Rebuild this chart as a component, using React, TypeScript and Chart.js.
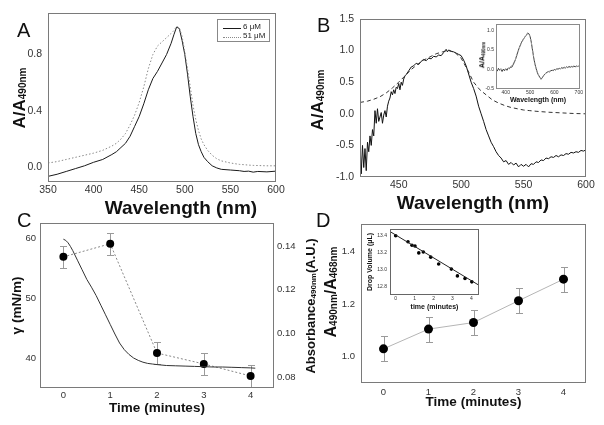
import React, { useEffect, useRef } from "react";
import { Chart, registerables } from "chart.js";
Chart.register(...registerables);

const FONT = "Arial, 'Liberation Sans', Helvetica, sans-serif";
Chart.defaults.font.family = FONT;

// ---------- Panel A ----------
const A_WAVELENGTH = [350, 360, 370, 380, 390, 400, 410, 420, 425, 430, 435, 440, 445, 450, 455, 460, 465, 470, 475, 480, 485, 488, 491, 494, 497, 500, 503, 506, 509, 512, 515, 518, 521, 525, 530, 535, 540, 550, 560, 565, 570, 575, 580, 590, 600];
const A_6UM = [-0.065, -0.05, -0.03, -0.01, 0.01, 0.035, 0.055, 0.09, 0.11, 0.14, 0.17, 0.22, 0.29, 0.36, 0.45, 0.55, 0.63, 0.68, 0.74, 0.8, 0.88, 0.94, 0.995, 0.985, 0.9, 0.8, 0.66, 0.5, 0.36, 0.24, 0.16, 0.11, 0.07, 0.04, 0.01, -0.005, -0.015, -0.02, -0.025, -0.03, -0.028, -0.035, -0.03, -0.033, -0.028];
const A_51UM = [0.03, 0.04, 0.055, 0.07, 0.085, 0.1, 0.12, 0.15, 0.17, 0.2, 0.24, 0.3, 0.37, 0.46, 0.57, 0.7, 0.8, 0.86, 0.89, 0.92, 0.95, 0.97, 1.0, 0.99, 0.93, 0.82, 0.7, 0.57, 0.44, 0.34, 0.26, 0.2, 0.16, 0.12, 0.085, 0.06, 0.045, 0.03, 0.02, 0.018, 0.015, 0.013, 0.012, 0.01, 0.01];
const A_X_TICKS = [350, 400, 450, 500, 550, 600];
const A_Y_TICKS = [0, 0.4, 0.8];
const A_LEGEND = ["6 \u03bcM", "51 \u03bcM"];

// ---------- Panel B ----------
const B_WAVELENGTH = [419, 420, 421, 422, 423, 424, 425, 426, 427, 428, 429, 430, 431, 432, 433, 434, 435, 436, 437, 438, 439, 440, 441, 442, 443, 444, 445, 446, 447, 448, 449, 450, 451, 452, 453, 454, 455, 456, 458, 460, 462, 464, 466, 468, 470, 472, 474, 476, 478, 480, 482, 484, 486, 488, 489, 490, 492, 494, 496, 498, 500, 502, 504, 506, 508, 510, 512, 514, 516, 518, 520, 522, 524, 526, 528, 530, 532, 534, 536, 538, 540, 542, 544, 546, 548, 550, 552, 554, 556, 558, 560, 562, 564, 566, 568, 570, 572, 574, 576, 578, 580, 582, 584, 586, 588, 590, 592, 594, 596, 598, 600];
const B_SIGNAL = [-0.45, -0.95, -0.5, -0.85, -0.55, -0.9, -0.45, -0.6, -0.35, -0.5, -0.25, -0.35, 0.05, -0.15, 0.08, -0.12, -0.05, 0.02, -0.15, -0.02, 0.05, -0.05, 0.12, 0.2, 0.25, 0.35, 0.3, 0.38, 0.32, 0.42, 0.4, 0.48, 0.38, 0.5, 0.45, 0.55, 0.6, 0.62, 0.68, 0.74, 0.76, 0.8, 0.78, 0.83, 0.86, 0.84, 0.88, 0.87, 0.91, 0.9, 0.93, 0.92, 0.97, 1.02, 0.98, 1.01, 0.99, 0.98, 0.96, 0.94, 0.92, 0.85, 0.76, 0.63, 0.5, 0.4, 0.28, 0.12, 0.0, -0.12, -0.25, -0.35, -0.45, -0.52, -0.6, -0.66, -0.7, -0.76, -0.74, -0.8, -0.77, -0.81, -0.78, -0.84, -0.8, -0.83, -0.8, -0.84, -0.79, -0.8, -0.76, -0.77, -0.73, -0.74, -0.7, -0.71, -0.68, -0.69, -0.66, -0.68, -0.65, -0.66, -0.63, -0.64, -0.61, -0.62, -0.6, -0.61, -0.58, -0.59, -0.57];
const B_FIT_WAVELENGTH = [419, 425, 430, 435, 440, 445, 450, 455, 460, 465, 470, 475, 480, 485, 490, 495, 500, 505, 510, 515, 520, 525, 530, 535, 540, 545, 550, 555, 560, 570, 580, 590, 600];
const B_FIT = [0.18, 0.2, 0.23, 0.27, 0.33, 0.41, 0.5, 0.6, 0.7, 0.78, 0.85, 0.9, 0.95, 0.98, 1.0, 0.97, 0.88, 0.7, 0.5, 0.38, 0.3, 0.22, 0.17, 0.13, 0.1, 0.08, 0.06, 0.05, 0.04, 0.025, 0.015, 0.005, 0.0];
const B_X_TICKS = [450, 500, 550, 600];
const B_Y_TICKS = [-1, -0.5, 0, 0.5, 1, 1.5];

const B_INSET_WAVELENGTH = [360, 365, 370, 375, 380, 385, 390, 395, 400, 405, 410, 415, 420, 425, 430, 435, 440, 445, 450, 455, 460, 465, 470, 475, 480, 485, 490, 495, 500, 505, 510, 515, 520, 525, 530, 535, 540, 545, 550, 555, 560, 565, 570, 575, 580, 585, 590, 595, 600, 605, 610, 615, 620, 625, 630, 635, 640, 645, 650, 655, 660, 665, 670, 675, 680, 685, 690, 695, 700];
const B_INSET_SIGNAL = [0.0, -0.04, 0.03, -0.02, 0.02, -0.05, 0.01, -0.03, 0.02, -0.02, 0.04, 0.02, 0.07, 0.06, 0.12, 0.18, 0.26, 0.36, 0.46, 0.55, 0.63, 0.7, 0.76, 0.8, 0.85, 0.88, 0.94, 0.92, 0.85, 0.7, 0.5, 0.3, 0.14, 0.02, -0.08, -0.15, -0.2, -0.25, -0.21, -0.16, -0.12, -0.09, -0.07, -0.05, -0.06, -0.03, -0.02, -0.03, 0.0, -0.01, 0.02, 0.01, 0.03, 0.02, 0.05, 0.03, 0.06, 0.04, 0.07, 0.05, 0.08, 0.06, 0.08, 0.07, 0.09, 0.07, 0.09, 0.08, 0.09];
const B_INSET_FIT_WAVELENGTH = [360, 400, 420, 440, 460, 480, 490, 500, 510, 520, 530, 545, 560, 580, 600, 650, 700];
const B_INSET_FIT = [0.0, 0.0, 0.05, 0.26, 0.62, 0.86, 0.93, 0.86, 0.5, 0.13, -0.09, -0.24, -0.12, -0.04, 0.0, 0.05, 0.08];
const B_INSET_X_TICKS = [400, 500, 600, 700];
const B_INSET_Y_TICKS = [-0.5, 0, 0.5, 1];

// ---------- Panel C ----------
const C_CURVE_TIME = [0, 0.05, 0.1, 0.15, 0.2, 0.3, 0.4, 0.5, 0.6, 0.7, 0.8, 0.9, 1.0, 1.1, 1.2, 1.3, 1.4, 1.5, 1.6, 1.7, 1.8, 1.9, 2.0, 2.2, 2.4, 2.6, 2.8, 3.0, 3.2, 3.4, 3.6, 3.8, 4.0, 4.1];
const C_GAMMA = [59.8, 59.6, 59.2, 58.6, 57.9, 56.3, 54.7, 53.1, 51.8, 50.4, 48.8, 47.2, 45.6, 44.0, 42.5, 41.4, 40.6, 40.0, 39.6, 39.3, 39.1, 39.0, 38.9, 38.75, 38.7, 38.65, 38.6, 38.55, 38.5, 38.5, 38.45, 38.4, 38.35, 38.3];
const C_TIME = [0, 1, 2, 3, 4];
const C_ABSORBANCE = [0.135, 0.141, 0.091, 0.086, 0.0805];
const C_ABSORBANCE_ERROR = [0.005, 0.005, 0.005, 0.005, 0.005];
const C_X_TICKS = [0, 1, 2, 3, 4];
const C_Y_TICKS = [40, 50, 60];
const C_Y2_TICKS = [0.08, 0.1, 0.12, 0.14];

// ---------- Panel D ----------
const D_TIME = [0, 1, 2, 3, 4];
const D_RATIO = [1.03, 1.105, 1.13, 1.213, 1.295];
const D_RATIO_ERROR = [0.048, 0.048, 0.048, 0.047, 0.047];
const D_X_TICKS = [0, 1, 2, 3, 4];
const D_Y_TICKS = [1.0, 1.2, 1.4];

const D_INSET_TIME = [0, 0.65, 0.86, 1.02, 1.22, 1.46, 1.85, 2.27, 2.94, 3.26, 3.66, 4.02];
const D_INSET_VOLUME = [13.4, 13.33, 13.29, 13.28, 13.2, 13.21, 13.15, 13.07, 13.01, 12.93, 12.9, 12.86];
const D_INSET_FIT_TIME = [-0.3, 4.4];
const D_INSET_FIT_VOLUME = [13.45, 12.82];
const D_INSET_X_TICKS = [0, 1, 2, 3, 4];
const D_INSET_Y_TICKS = [12.8, 13.0, 13.2, 13.4];

// ---------- helpers ----------
const xy = (xs: number[], ys: number[]) => xs.map((x, i) => ({ x, y: ys[i] }));

function framePlugin(color: string) {
  return {
    id: "frame",
    afterDatasetsDraw(chart: any) {
      const { ctx, chartArea: a } = chart;
      ctx.save();
      ctx.strokeStyle = color;
      ctx.lineWidth = 1;
      ctx.strokeRect(Math.round(a.left) + 0.5, Math.round(a.top) + 0.5, Math.round(a.right - a.left) - 1, Math.round(a.bottom - a.top) - 1);
      ctx.restore();
    },
  };
}

function errorBarPlugin(datasetIndex: number, xs: number[], ys: number[], errs: number[], cap: number) {
  return {
    id: "errorBars",
    beforeDatasetsDraw(chart: any) {
      const meta = chart.getDatasetMeta(datasetIndex);
      const sx = chart.scales[meta.xAxisID];
      const sy = chart.scales[meta.yAxisID];
      const ctx = chart.ctx;
      ctx.save();
      ctx.strokeStyle = "#9a9a9a";
      ctx.lineWidth = 1;
      xs.forEach((xv, i) => {
        const px = Math.round(sx.getPixelForValue(xv)) + 0.5;
        const y1 = Math.round(sy.getPixelForValue(ys[i] - errs[i])) + 0.5;
        const y2 = Math.round(sy.getPixelForValue(ys[i] + errs[i])) + 0.5;
        ctx.beginPath();
        ctx.moveTo(px, y1);
        ctx.lineTo(px, y2);
        ctx.moveTo(px - cap, y1);
        ctx.lineTo(px + cap, y1);
        ctx.moveTo(px - cap, y2);
        ctx.lineTo(px + cap, y2);
        ctx.stroke();
      });
      ctx.restore();
    },
  };
}

type AxisOpts = {
  position: string;
  min: number;
  max: number;
  ticks: number[];
  fmt: (v: number) => string;
  size: number;
  font: number;
  pad: number;
  title?: { text: string; size: number; pad: number };
};

function axis(o: AxisOpts) {
  const horizontal = o.position === "bottom" || o.position === "top";
  return {
    type: "linear",
    position: o.position,
    min: o.min,
    max: o.max,
    bounds: "data",
    grid: { display: false, drawTicks: false },
    border: { display: false },
    ticks: {
      font: { family: FONT, size: o.font },
      color: "#333",
      padding: o.pad,
      maxRotation: 0,
      autoSkip: false,
      callback: (v: any) => o.fmt(Number(v)),
    },
    afterBuildTicks: (s: any) => {
      s.ticks = o.ticks.map((v) => ({ value: v }));
    },
    afterFit: (s: any) => {
      if (horizontal) s.height = o.size;
      else s.width = o.size;
    },
    title: o.title
      ? {
          display: true,
          text: o.title.text,
          color: "#111",
          font: { family: FONT, size: o.title.size, weight: "bold" },
          padding: horizontal ? { top: 0, bottom: o.title.pad } : { top: o.title.pad, bottom: 0 },
        }
      : { display: false },
  };
}

const baseOptions = (padding: any, scales: any) => ({
  animation: false,
  responsive: false,
  devicePixelRatio: 1,
  layout: { padding },
  plugins: { legend: { display: false }, tooltip: { enabled: false } },
  elements: { point: { radius: 0 } },
  scales,
});

const line = (data: any, color: string, dash: number[] = [], width = 1, extra: any = {}) => ({
  data,
  showLine: true,
  borderColor: color,
  borderWidth: width,
  borderDash: dash,
  pointRadius: 0,
  tension: 0,
  ...extra,
});

function configA(): any {
  return {
    type: "scatter",
    data: {
      datasets: [
        line(xy(A_WAVELENGTH, A_51UM), "#8a8a8a", [1.5, 2]),
        line(xy(A_WAVELENGTH, A_6UM), "#1a1a1a"),
      ],
    },
    options: baseOptions({ left: 0, right: 24, top: 13, bottom: 3 }, {
      x: axis({ position: "bottom", min: 350, max: 600, ticks: A_X_TICKS, fmt: (v) => String(v), size: 35, font: 10.5, pad: 2 }),
      y: axis({ position: "left", min: -0.105, max: 1.095, ticks: A_Y_TICKS, fmt: (v) => v.toFixed(1), size: 48, font: 10.5, pad: 6 }),
    }),
    plugins: [framePlugin("#7a7a7a")],
  };
}

function configB(): any {
  return {
    type: "scatter",
    data: {
      datasets: [
        line(xy(B_FIT_WAVELENGTH, B_FIT), "#333", [4, 3]),
        line(xy(B_WAVELENGTH, B_SIGNAL), "#111"),
      ],
    },
    options: baseOptions({ left: 0, right: 18, top: 19, bottom: 4.6 }, {
      x: axis({ position: "bottom", min: 419, max: 600, ticks: B_X_TICKS, fmt: (v) => String(v), size: 38.4, font: 10.5, pad: 2, title: { text: "Wavelength (nm)", size: 19, pad: 0 } }),
      y: axis({ position: "left", min: -1, max: 1.5, ticks: B_Y_TICKS, fmt: (v) => v.toFixed(1), size: 60, font: 10.5, pad: 6 }),
    }),
    plugins: [framePlugin("#7a7a7a")],
  };
}

function configBInset(): any {
  return {
    type: "scatter",
    data: {
      datasets: [
        line(xy(B_INSET_FIT_WAVELENGTH, B_INSET_FIT), "#aaa", [2, 2]),
        line(xy(B_INSET_WAVELENGTH, B_INSET_SIGNAL), "#3a3a3a"),
      ],
    },
    options: baseOptions({ left: 0, right: 15, top: 6, bottom: 9 }, {
      x: axis({ position: "bottom", min: 360, max: 705, ticks: B_INSET_X_TICKS, fmt: (v) => String(v), size: 15, font: 5, pad: 1, title: { text: "Wavelength (nm)", size: 7, pad: 0 } }),
      y: axis({ position: "left", min: -0.5, max: 1.17, ticks: B_INSET_Y_TICKS, fmt: (v) => v.toFixed(1), size: 26, font: 5, pad: 2 }),
    }),
    plugins: [framePlugin("#8a8a8a")],
  };
}

function configC(): any {
  return {
    type: "scatter",
    data: {
      datasets: [
        line(xy(C_CURVE_TIME, C_GAMMA), "#333", [], 1, { yAxisID: "y" }),
        line(xy(C_TIME, C_ABSORBANCE), "#888", [2, 2], 1, {
          yAxisID: "y2",
          pointRadius: 4,
          pointBackgroundColor: "#000",
          pointBorderColor: "#000",
          pointBorderWidth: 0,
        }),
      ],
    },
    options: baseOptions({ left: 0, right: 0, top: 13, bottom: 8.2 }, {
      x: axis({ position: "bottom", min: -0.5, max: 4.5, ticks: C_X_TICKS, fmt: (v) => String(v), size: 28.8, font: 9.5, pad: 2, title: { text: "Time (minutes)", size: 13.5, pad: 0 } }),
      y: axis({ position: "left", min: 35, max: 62.5, ticks: C_Y_TICKS, fmt: (v) => String(v), size: 40, font: 9.5, pad: 4, title: { text: "\u03b3 (mN/m)", size: 13.5, pad: 9 } }),
      y2: axis({ position: "right", min: 0.075, max: 0.1505, ticks: C_Y2_TICKS, fmt: (v) => v.toFixed(2), size: 46, font: 9.5, pad: 3 }),
    }),
    plugins: [framePlugin("#7a7a7a"), errorBarPlugin(1, C_TIME, C_ABSORBANCE, C_ABSORBANCE_ERROR, 3.5)],
  };
}

function configD(): any {
  return {
    type: "scatter",
    data: {
      datasets: [
        line(xy(D_TIME, D_RATIO), "#b5b5b5", [], 1, {
          pointRadius: 4.5,
          pointBackgroundColor: "#000",
          pointBorderColor: "#000",
          pointBorderWidth: 0,
        }),
      ],
    },
    options: baseOptions({ left: 0, right: 18, top: 14, bottom: 14.2 }, {
      x: axis({ position: "bottom", min: -0.5, max: 4.5, ticks: D_X_TICKS, fmt: (v) => String(v), size: 27.8, font: 9.5, pad: 4, title: { text: "Time (minutes)", size: 13.5, pad: 0 } }),
      y: axis({ position: "left", min: 0.9, max: 1.505, ticks: D_Y_TICKS, fmt: (v) => v.toFixed(1), size: 61, font: 9.5, pad: 6 }),
    }),
    plugins: [framePlugin("#7a7a7a"), errorBarPlugin(0, D_TIME, D_RATIO, D_RATIO_ERROR, 3.5)],
  };
}

function configDInset(): any {
  return {
    type: "scatter",
    data: {
      datasets: [
        line(xy(D_INSET_FIT_TIME, D_INSET_FIT_VOLUME), "#222"),
        { data: xy(D_INSET_TIME, D_INSET_VOLUME), showLine: false, pointRadius: 1.8, pointBackgroundColor: "#000", pointBorderColor: "#000", pointBorderWidth: 0 },
      ],
    },
    options: baseOptions({ left: 0, right: 6, top: 7, bottom: 6 }, {
      x: axis({ position: "bottom", min: -0.3, max: 4.4, ticks: D_INSET_X_TICKS, fmt: (v) => String(v), size: 16, font: 5, pad: 1, title: { text: "time (minutes)", size: 7, pad: 0 } }),
      y: axis({ position: "left", min: 12.706, max: 13.48, ticks: D_INSET_Y_TICKS, fmt: (v) => v.toFixed(1), size: 35, font: 5, pad: 3, title: { text: "Drop Volume (\u03bcL)", size: 7, pad: 11 } }),
    }),
    plugins: [framePlugin("#666")],
  };
}

function VTitle(props: { x: number; y: number; size: number; sub: number; drop: number; parts: [string, boolean][] }) {
  return (
    <div
      style={{
        position: "absolute",
        left: props.x,
        top: props.y,
        transform: "translate(-50%, -50%) rotate(-90deg)",
        whiteSpace: "nowrap",
        fontFamily: FONT,
        fontWeight: "bold",
        fontSize: props.size,
        lineHeight: 1,
        color: "#111",
      }}
    >
      {props.parts.map(([t, isSub], i) =>
        isSub ? (
          <span key={i} style={{ fontSize: props.sub, position: "relative", top: props.drop }}>{t}</span>
        ) : (
          <span key={i}>{t}</span>
        )
      )}
    </div>
  );
}

function Letter(props: { x: number; y: number; t: string }) {
  return (
    <div style={{ position: "absolute", left: props.x, top: props.y, fontFamily: FONT, fontSize: 20, lineHeight: 1, color: "#111" }}>{props.t}</div>
  );
}

export default function App() {
  const rA = useRef<HTMLCanvasElement>(null);
  const rB = useRef<HTMLCanvasElement>(null);
  const rBi = useRef<HTMLCanvasElement>(null);
  const rC = useRef<HTMLCanvasElement>(null);
  const rD = useRef<HTMLCanvasElement>(null);
  const rDi = useRef<HTMLCanvasElement>(null);

  useEffect(() => {
    const charts = [
      new Chart(rA.current!, configA()),
      new Chart(rB.current!, configB()),
      new Chart(rC.current!, configC()),
      new Chart(rD.current!, configD()),
      new Chart(rBi.current!, configBInset()),
      new Chart(rDi.current!, configDInset()),
    ];
    return () => charts.forEach((c) => c.destroy());
  }, []);

  const cv = (left: number, top: number) => ({ position: "absolute" as const, left, top, display: "block" });

  return (
    <div style={{ position: "fixed", left: 0, top: 0, width: 604, height: 425, background: "#fff", overflow: "hidden" }}>
      <canvas ref={rA} width={300} height={220} style={cv(0, 0)} />
      <canvas ref={rB} width={304} height={220} style={cv(300, 0)} />
      <canvas ref={rC} width={320} height={215} style={cv(0, 210)} />
      <canvas ref={rD} width={304} height={215} style={cv(300, 210)} />
      <canvas ref={rBi} width={125} height={95} style={cv(470, 18)} />
      <canvas ref={rDi} width={130} height={95} style={cv(355, 222)} />

      {/* legend of panel A */}
      <div style={{ position: "absolute", left: 217, top: 19, width: 53, height: 23, border: "1px solid #888", boxSizing: "border-box", fontFamily: FONT, fontSize: 8, color: "#222" }}>
        <div style={{ position: "absolute", left: 5, top: 8, width: 18, borderTop: "1px solid #1a1a1a" }} />
        <div style={{ position: "absolute", left: 25, top: 3, lineHeight: 1 }}>{A_LEGEND[0]}</div>
        <div style={{ position: "absolute", left: 5, top: 17, width: 18, borderTop: "1px dotted #8a8a8a" }} />
        <div style={{ position: "absolute", left: 25, top: 12, lineHeight: 1 }}>{A_LEGEND[1]}</div>
      </div>

      {/* x title of panel A */}
      <div style={{ position: "absolute", left: 181, top: 207, transform: "translate(-50%, -50%)", whiteSpace: "nowrap", fontFamily: FONT, fontWeight: "bold", fontSize: 19, lineHeight: 1, color: "#111" }}>Wavelength (nm)</div>

      <VTitle x={19} y={98} size={17} sub={10} drop={0.5} parts={[["A/A", false], ["490nm", true]]} />
      <VTitle x={317} y={100} size={17} sub={10} drop={0.5} parts={[["A/A", false], ["490nm", true]]} />
      <VTitle x={482} y={55} size={7} sub={4.5} drop={0.5} parts={[["A/A", false], ["490nm", true]]} />
      <VTitle x={310} y={306} size={13} sub={8} drop={1} parts={[["Absorbance", false], ["490nm", true], ["(A.U.)", false]]} />
      <VTitle x={331} y={292} size={16} sub={10} drop={0.5} parts={[["A", false], ["490nm", true], ["/A", false], ["468nm", true]]} />

      <Letter x={17} y={20} t="A" />
      <Letter x={317} y={15} t="B" />
      <Letter x={17} y={210} t="C" />
      <Letter x={316} y={210} t="D" />
    </div>
  );
}
